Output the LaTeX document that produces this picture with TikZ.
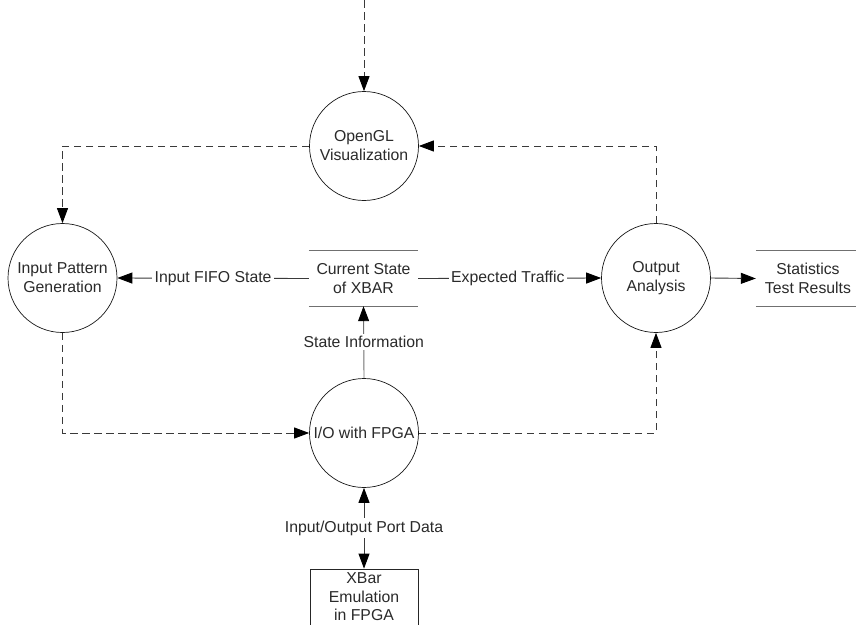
\documentclass[tikz,border=0pt]{standalone}
\usepackage{fontspec}
\setmainfont{Liberation Sans}
\usetikzlibrary{arrows.meta}
\definecolor{txt}{HTML}{2A2A2A}
\definecolor{ln}{HTML}{3A3A3A}
\definecolor{st}{HTML}{707070}
\tikzset{
  proc/.style={circle, draw=black!90, line width=0.7pt, minimum size=109pt, inner sep=0pt, align=center, text=txt, font=\fontsize{15.8}{19}\selectfont},
  storenode/.style={inner sep=0pt, minimum height=55pt, align=center, text=txt, font=\fontsize{15.8}{19}\selectfont},
  storeline/.style={draw=st, line width=1.3pt},
  lab/.style={fill=white, inner sep=2.5pt, text=txt, font=\fontsize{15.8}{19}\selectfont},
  flow/.style={draw=ln, line width=0.9pt, dash pattern=on 7.5pt off 4.5pt, -{Triangle[length=15pt,width=11pt,color=black]}},
  sol/.style={draw=ln, line width=0.9pt},
  tip/.style={-{Triangle[length=15pt,width=11pt,color=black]}},
  boxnode/.style={draw=black!85, line width=0.8pt, minimum width=108pt, minimum height=56pt, inner sep=0pt, align=center, text=txt, font=\fontsize{15.8}{18.5}\selectfont}
}
\begin{document}
\begin{tikzpicture}[x=1pt,y=-1pt]
\useasboundingbox (0,0) rectangle (856,624);
\fill[white] (0,0) rectangle (856,624);
% processes
\node[proc] (ogl) at (364,146) {OpenGL\\Visualization};
\node[proc] (ipg) at (62.5,278) {Input Pattern\\Generation};
\node[proc] (oa) at (656,278) {Output\\Analysis};
\node[proc] (io) at (364,433) {I/O with FPGA};
% data stores
\node[storenode, minimum width=109pt] (cs) at (363.5,278.5) {Current State\\of XBAR};
\draw[storeline] (cs.north west) -- (cs.north east);
\draw[storeline] (cs.south west) -- (cs.south east);
\node[storenode, minimum width=104pt] (stats) at (808,278.5) {Statistics\\Test Results};
\draw[storeline] (stats.north west) -- (stats.north east);
\draw[storeline] (stats.south west) -- (stats.south east);
% external box
\node[boxnode] (xb) at (364,597) {XBar\\Emulation\\in FPGA};
% dashed control flows
\coordinate (topin) at (364,0);
\draw[flow] (topin) -- (ogl.north);
\draw[flow] (ogl.west) -| (ipg.north);
\draw[flow] (oa.north) |- (ogl.east);
\draw[flow] (ipg.south) |- (io.west);
\draw[flow] (io.east) -| (oa.south);
% solid data flows
\draw[sol, tip] (cs.west) -- (ipg.east) node[lab, pos=0.5] {Input FIFO State};
\draw[sol, tip] (cs.east) -- (oa.west) node[lab, pos=0.49] {Expected Traffic};
\draw[sol, draw=st, tip] (io.north) -- (cs.south) node[lab, pos=0.5] {State Information};
\draw[sol, {Triangle[length=15pt,width=11pt,color=black]}-{Triangle[length=15pt,width=11pt,color=black]}] (io.south) -- (xb.north) node[lab, pos=0.5] {Input/Output Port Data};
\draw[sol, tip] (oa.east) -- (stats.west);
\end{tikzpicture}
\end{document}
